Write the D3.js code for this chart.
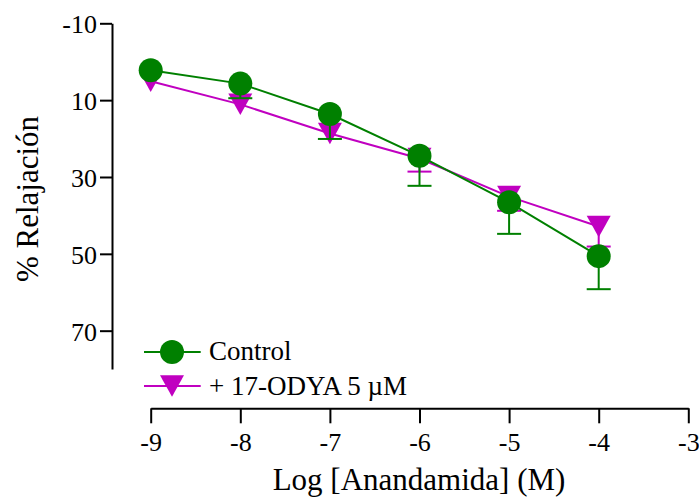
<!DOCTYPE html>
<html>
<head>
<meta charset="utf-8">
<script src="https://cdn.jsdelivr.net/npm/d3@7"></script>
<style>
  html, body { margin: 0; padding: 0; background: #fff; }
</style>
</head>
<body>
<svg id="chart" width="699" height="498"></svg>
<script>
// Log concentration of anandamide (M)
const logConc = [-9, -8, -7, -6, -5, -4];

// % relaxation, mean and SEM (null: bar shorter than the symbol, not drawn)
const controlMean = [2.2, 5.7, 13.6, 24.5, 36.6, 50.6];
const controlSem  = [null, 3.8, 6.5, 7.8, 8.2, 8.6];
const odyaMean    = [5.1, 11.1, 18.7, 25.2, 35.1, 42.9];
const odyaSem     = [null, null, null, 3.4, 3.7, 5.2];

const xTicks = [-9, -8, -7, -6, -5, -4, -3];
const yTicks = [-10, 10, 30, 50, 70];

const seriesNames = ["Control", "+ 17-ODYA 5 \u00B5M"];

const GREEN = "#008000";
const MAGENTA = "#C000C0";
const FONT = '"Liberation Serif", "Times New Roman", Tinos';

const svg = d3.select("#chart");

const x = d3.scaleLinear().domain([-9, -3]).range([150.7, 688.3]);
const y = d3.scaleLinear().domain([-10, 80]).range([23.3, 369.1]);

const yAxisX = 112;
const xAxisY = 408.3;

// Y axis
const gy = svg.append("g")
  .attr("transform", `translate(${yAxisX},0)`)
  .call(d3.axisLeft(y).tickValues(yTicks).tickSize(12).tickSizeOuter(0).tickPadding(3).tickFormat(d => String(d)));
gy.attr("font-family", null);
gy.select(".domain").attr("stroke", "#000").attr("stroke-width", 2);
gy.selectAll(".tick line").attr("stroke", "#000").attr("stroke-width", 2);
gy.selectAll(".tick text").attr("font-size", 26).attr("dy", "0.36em");

// X axis
const gx = svg.append("g")
  .attr("transform", `translate(0,${xAxisY})`)
  .call(d3.axisBottom(x).tickValues(xTicks).tickSize(15).tickSizeOuter(0).tickFormat(d => String(d)));
gx.attr("font-family", null);
gx.select(".domain").attr("stroke", "#000").attr("stroke-width", 2);
gx.selectAll(".tick line").attr("stroke", "#000").attr("stroke-width", 2);
gx.selectAll(".tick text").attr("font-size", 26).attr("y", 43).attr("dy", 0);

// Axis titles
svg.append("text")
  .attr("x", 419).attr("y", 490)
  .attr("text-anchor", "middle")
  .attr("font-size", 31)
  .text("Log [Anandamida] (M)");

svg.append("text")
  .attr("transform", "translate(38,199) rotate(-90)")
  .attr("text-anchor", "middle")
  .attr("font-size", 31)
  .text("% Relajaci\u00F3n");

// Marker shapes
const circleR = 12;
const triW = 24, triH = 21.5;
function triPath(cx, cy) {
  return `M${cx - triW / 2},${cy - triH / 2}L${cx + triW / 2},${cy - triH / 2}L${cx},${cy + triH / 2}Z`;
}

function drawSeries(means, sems, color, marker) {
  const pts = logConc.map((c, i) => ({ c, m: means[i], s: sems[i] }));
  const g = svg.append("g");
  // error bars (one-sided, toward higher values)
  const eb = g.selectAll(".eb").data(pts.filter(d => d.s != null)).join("g");
  eb.append("line")
    .attr("x1", d => x(d.c)).attr("x2", d => x(d.c))
    .attr("y1", d => y(d.m)).attr("y2", d => y(d.m + d.s))
    .attr("stroke", color).attr("stroke-width", 2);
  eb.append("line")
    .attr("x1", d => x(d.c) - 12).attr("x2", d => x(d.c) + 12)
    .attr("y1", d => y(d.m + d.s)).attr("y2", d => y(d.m + d.s))
    .attr("stroke", color).attr("stroke-width", 2);
  // connecting line
  g.append("path")
    .datum(pts)
    .attr("fill", "none")
    .attr("stroke", color)
    .attr("stroke-width", 2)
    .attr("d", d3.line().x(d => x(d.c)).y(d => y(d.m)));
  // markers
  if (marker === "circle") {
    g.selectAll(".mk").data(pts).join("circle")
      .attr("cx", d => x(d.c)).attr("cy", d => y(d.m)).attr("r", circleR)
      .attr("fill", color);
  } else {
    g.selectAll(".mk").data(pts).join("path")
      .attr("d", d => triPath(x(d.c), y(d.m)))
      .attr("fill", color);
  }
}

drawSeries(odyaMean, odyaSem, MAGENTA, "triangle");
drawSeries(controlMean, controlSem, GREEN, "circle");

// Legend
const legend = [
  { name: seriesNames[0], color: GREEN, marker: "circle", cy: 352, by: 360 },
  { name: seriesNames[1], color: MAGENTA, marker: "triangle", cy: 386, by: 394.5 }
];
const lg = svg.append("g");
legend.forEach(item => {
  lg.append("line")
    .attr("x1", 144).attr("x2", 200.7)
    .attr("y1", item.cy).attr("y2", item.cy)
    .attr("stroke", item.color).attr("stroke-width", 2);
  if (item.marker === "circle") {
    lg.append("circle").attr("cx", 172).attr("cy", item.cy).attr("r", circleR).attr("fill", item.color);
  } else {
    lg.append("path").attr("d", triPath(172, item.cy)).attr("fill", item.color);
  }
  lg.append("text")
    .attr("x", 209).attr("y", item.by)
    .attr("font-size", 27)
    .text(item.name);
});

// Serif face for every label
svg.selectAll("text").style("font-family", FONT).style("fill", "#000");
</script>
</body>
</html>
